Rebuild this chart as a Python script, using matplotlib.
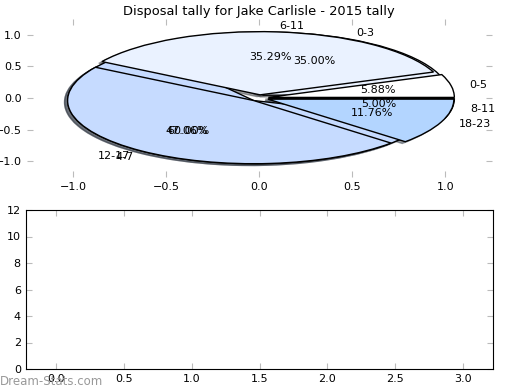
import numpy as np
import matplotlib
matplotlib.use("Agg")
import matplotlib.pyplot as plt

# pie data
labels_a = ["0-5", "6-11", "12-17", "18-23"]
counts_a = [1, 6, 8, 2]
labels_b = ["0-3", "4-7", "8-11"]
counts_b = [7, 12, 1]

colors_a = ["#ffffff", "#eaf2ff", "#c6dbff", "#b3d5ff"]
colors_b = ["#eaf2ff", "#c6dbff", "#b3d5ff"]
explode_a = [0.05, 0.05, 0.05, 0.05]
explode_b = [0.05, 0.05, 0.05]

yticks_bar = [0, 2, 4, 6, 8, 10, 12]
xticks_bar = [0.0, 0.5, 1.0, 1.5, 2.0, 2.5, 3.0]

plt.rcParams["font.size"] = 8

fig = plt.figure(figsize=(5.2, 3.9), dpi=100)
ax1 = fig.add_axes([26.7 / 520, 1 - 177 / 390, 465 / 520, 158 / 390])
ax2 = fig.add_axes([25.7 / 520, 1 - 369 / 390, 467.6 / 520, 159 / 390])

wp = {"edgecolor": "black", "linewidth": 1}
shad = {"ox": -0.012, "oy": -0.02}
ax1.pie(counts_b, labels=labels_b, colors=colors_b, explode=explode_b,
        autopct="%1.2f%%", shadow=shad, wedgeprops=wp)
ax1.pie(counts_a, labels=labels_a, colors=colors_a, explode=explode_a,
        autopct="%1.2f%%", shadow=shad, wedgeprops=wp)
ax1.set_aspect("auto")
ax1.set_frame_on(False)
ax1.set_xlim(-1.25, 1.25)
ax1.set_ylim(-1.25, 1.25)
ax1.set_xticks([-1.0, -0.5, 0.0, 0.5, 1.0])
ax1.set_yticks([-1.0, -0.5, 0.0, 0.5, 1.0])
ax1.set_title("Disposal tally for Jake Carlisle - 2015 tally", fontsize=9.4, pad=3)

ax2.set_xlim(-0.225, 3.225)
ax2.set_ylim(0, 12)
ax2.set_xticks(xticks_bar)
ax2.set_yticks(yticks_bar)

for ax in (ax1, ax2):
    ax.tick_params(direction="in", top=True, right=True, color="#bbbbbb",
                   length=4, labelsize=8)

fig.text(0.0, 0.012, "Dream-Stats.com", color="#999999", fontsize=8.5)

fig.savefig("out.png", dpi=100)
